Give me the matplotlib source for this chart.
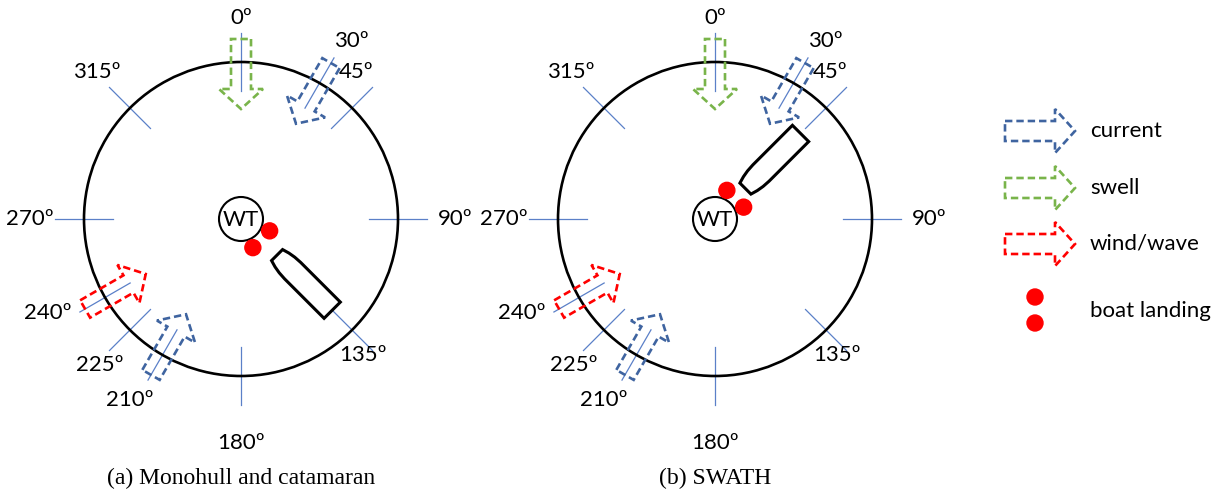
"""
Heading diagram: WT, boat landing, boat and current/swell/wind directions
"""

import numpy as np
import matplotlib
matplotlib.use('Agg')
import matplotlib.pyplot as plt
from matplotlib.patches import Circle, Polygon

# ---- data ----
tick_angles = [0, 30, 45, 90, 135, 180, 210, 225, 240, 270, 315]
tick_labels = ['0º', '30º', '45º', '90º', '135º', '180º', '210º', '225º', '240º', '270º', '315º']

# arrows: (heading in degrees, kind)
arrow_headings = [0, 30, 240, 210]
arrow_kinds = ['swell', 'current', 'wind/wave', 'current']

panel_titles = ['(a) Monohull and catamaran', '(b) SWATH']
boat_headings = [135, 45]            # direction of boat from WT
landing_headings = [[112.5, 157.5], [22.5, 67.5]]

legend_names = ['current', 'swell', 'wind/wave']
legend_extra = 'boat landing'

# boat outline (along axis from stern, across)
hull_u = [0, 56, 64, 71, 78, 78, 71, 64, 56, 0]
hull_v = [11.5, 11.5, 11.0, 9.8, 7.8, -7.8, -9.8, -11.0, -11.5, -11.5]

# ---- style / layout ----
colors = {'current': '#3F64A0', 'swell': '#79B44A', 'wind/wave': '#FF0000'}
tick_color = '#5B80C8'
dot_color = '#FF0000'
label_font = 'Lato'
caption_font = 'Liberation Serif'

centers = [(241, 219), (715, 219)]
R = 157
label_shift = {0: (0, 201), 30: (1.8, 210), 45: (-7, 187), 90: (0, 214),
               135: (3, 183), 180: (0, 224), 210: (1.5, 212), 225: (-1, 203),
               240: (4, 215), 270: (0, 211), 315: (0.6, 206)}
boat_r = [(51, 129), (44, 121)]  # bow, stern distances


def polar(c, ang, r):
    a = np.radians(ang)
    return c[0] + r * np.sin(a), c[1] - r * np.cos(a)


def arrow_poly(tail, tip, w=10, hw=22, hl=20):
    tail = np.array(tail, float)
    tip = np.array(tip, float)
    d = tip - tail
    L = np.hypot(*d)
    d /= L
    p = np.array([-d[1], d[0]])
    loc = [(0, -w), (L - hl, -w), (L - hl, -hw), (L, 0),
           (L - hl, hw), (L - hl, w), (0, w)]
    return [tail + u * d + v * p for u, v in loc]


def draw_arrow(ax, tail, tip, kind):
    ax.add_patch(Polygon(arrow_poly(tail, tip), closed=True, fill=False,
                         edgecolor=colors[kind], lw=1.9,
                         linestyle=(0, (2.8, 1.5)), zorder=4))


fig = plt.figure(figsize=(12.25, 4.93), dpi=100)
ax = fig.add_axes([0, 0, 1, 1])
ax.set_xlim(0, 1225)
ax.set_ylim(493, 0)
ax.axis('off')

for i, c in enumerate(centers):
    ax.add_patch(Circle(c, R, fill=False, edgecolor='black', lw=1.9, zorder=2))

    # ticks and labels
    for ang, lab in zip(tick_angles, tick_labels):
        x0, y0 = polar(c, ang, 128)
        x1, y1 = polar(c, ang, 186)
        ax.plot([x0, x1], [y0, y1], color=tick_color, lw=0.9, zorder=1)
        da, rr = label_shift[ang]
        lx, ly = polar(c, ang + da, rr)
        ax.text(lx, ly, lab, ha='center', va='center', fontsize=16,
                family=label_font)

    # environment arrows
    for ang, kind in zip(arrow_headings, arrow_kinds):
        draw_arrow(ax, polar(c, ang, 180), polar(c, ang, 110), kind)

    # wind turbine
    ax.add_patch(Circle(c, 22, fill=True, facecolor='white', edgecolor='black',
                        lw=1.5, zorder=5))
    ax.text(c[0], c[1] + 1, 'WT', ha='center', va='center', fontsize=16,
            family=label_font, zorder=6)

    # boat landings
    for ang in landing_headings[i]:
        ax.add_patch(Circle(polar(c, ang, 31), 8, color=dot_color, zorder=6))

    # boat
    ang = boat_headings[i]
    a = np.radians(ang)
    stern = np.array(polar(c, ang, boat_r[i][1]))
    d = np.array([-np.sin(a), np.cos(a)])
    p = np.array([np.cos(a), np.sin(a)])
    pts = [stern + u * d + v * p for u, v in zip(hull_u, hull_v)]
    ax.add_patch(Polygon(pts, closed=True, facecolor='white', edgecolor='black',
                         lw=2.2, joinstyle='miter', zorder=5))

    ax.text(c[0], 478, panel_titles[i], ha='center', va='center', fontsize=17,
            family=caption_font)

# legend
for name, y in zip(legend_names, [131, 188, 244]):
    draw_arrow(ax, (1005, y), (1075, y), name)
    ax.text(1090, y, name, ha='left', va='center', fontsize=16, family=label_font)
for y in [297, 323]:
    ax.add_patch(Circle((1035, y), 8, color=dot_color, zorder=6))
ax.text(1090, 311, legend_extra, ha='left', va='center', fontsize=16,
        family=label_font)

fig.savefig('out.png', dpi=100)
